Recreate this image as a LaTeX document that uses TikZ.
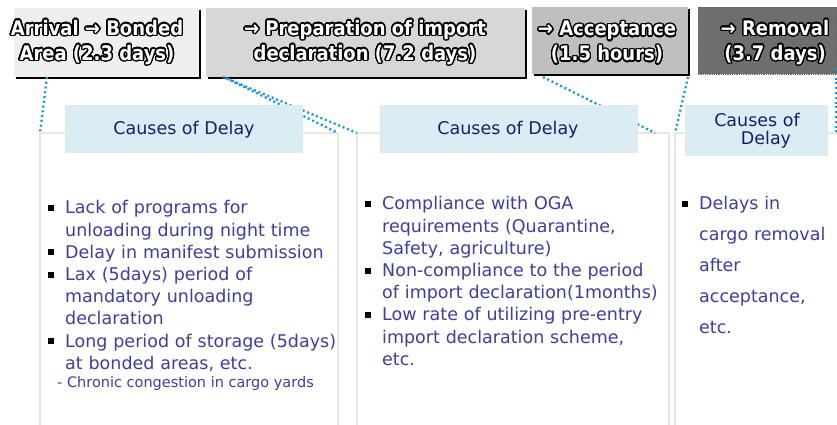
\documentclass[tikz,border=0pt]{standalone}
\usepackage{fontspec}
\setmainfont{DejaVu Sans}
\newfontfamily\boxfont{DejaVu Sans Condensed}
\usepackage{contour}
\contourlength{1.4pt}
\contournumber{24}
\definecolor{textblue}{RGB}{62,62,158}
\definecolor{headtext}{RGB}{28,28,105}
\definecolor{headfill}{RGB}{219,237,244}
\definecolor{headborder}{RGB}{228,234,224}
\definecolor{dotblue}{RGB}{22,152,212}
\definecolor{panelcol}{RGB}{232,232,222}
\definecolor{fillA}{RGB}{239,239,239}
\definecolor{fillB}{RGB}{215,215,215}
\definecolor{fillC}{RGB}{191,191,191}
\definecolor{fillD}{RGB}{110,110,110}
\newcommand\bul{\leavevmode\llap{\textcolor{black}{\rule[3pt]{6pt}{6pt}}\hspace{11.5pt}}}
\begin{document}
\begin{tikzpicture}[x=1pt,y=1pt,
  shadowbox/.style={fill=black},
  boxtext/.style={text=white, align=center, inner sep=0pt,
     font=\boxfont\bfseries\fontsize{20}{25}\selectfont},
  panelline/.style={draw=panelcol, line width=1.6pt},
  headbox/.style={fill=headfill},
  headlabel/.style={text=headtext, align=center, inner sep=0pt,
     font=\fontsize{17.5}{18}\selectfont},
  bodytext/.style={text=textblue, align=left, inner sep=0pt, text width=300pt,
     anchor=base west, font=\fontsize{17.5}{22.2}\selectfont},
  dots/.style={draw=dotblue, line width=2.3pt, dash pattern=on 2pt off 2.8pt}]
\useasboundingbox[fill=white] (0,0) rectangle (837,425);

% panels
\draw[panelline] (40,0) -- (40,292) -- (338,292) -- (338,0);
\draw[panelline] (357,0) -- (357,292) -- (669,292) -- (669,0);
\draw[panelline] (675,0) -- (675,292) -- (837,292);

% top boxes
\fill[shadowbox] (16,346) rectangle (201,415);
\fill[fillA] (14,348) rectangle (199,417);
\fill[shadowbox] (208,346) rectangle (527,415);
\fill[fillB] (206,348) rectangle (525,417);
\fill[shadowbox] (534,349) rectangle (690,416);
\fill[fillC] (532,351) rectangle (688,418);
\fill[fillD] (698,351) rectangle (837,418);
\draw[black!60, densely dotted, line width=0.8pt] (698,351) rectangle (836.5,418);

\node[boxtext] (t1) at (97,382) {\contour{black}{Arrival → Bonded}\\\contour{black}{Area (2.3 days)}};
\node[boxtext] (t2) at (365,382) {\contour{black}{→ Preparation of import}\\\contour{black}{declaration (7.2 days)}};
\node[boxtext] (t3) at (607,382) {\contour{black}{→ Acceptance}\\\contour{black}{(1.5 hours)}};
\node[boxtext] (t4) at (775,382) {\contour{black}{→ Removal}\\\contour{black}{(3.7 days)}};

% connector end points
\coordinate (a1) at (47,348);  \coordinate (p1l) at (40,292);
\coordinate (a2) at (223,348); \coordinate (p2l) at (357,292);
\coordinate (a2b) at (226,347); \coordinate (p1r) at (338,292);
\coordinate (a3) at (543,348); \coordinate (p2r) at (655,292);
\coordinate (a4) at (688,348); \coordinate (p3l) at (675,292);
\coordinate (a5) at (836,357); \coordinate (p3r) at (836,292);
\draw[dots] (a1) -- (p1l);
\draw[dots] (a2) -- (p2l);
\draw[dots] (a2b) -- (p1r);
\draw[dots] (a3) -- (p2r);
\draw[dots] (a4) -- (p3l);
\draw[dots] (a5) -- (p3r);

% headers
\fill[headbox] (65,273) rectangle (302,320);
\fill[headbox] (380,273) rectangle (637,320);
\fill[headbox] (685,270) rectangle (827,320);
\draw[headborder, line width=0.8pt] (65,273) rectangle (302,320);
\draw[headborder, line width=0.8pt] (380,273) rectangle (637,320);
\draw[headborder, line width=0.8pt] (685,270) rectangle (827,320);
\node[headlabel] (h1) at (184,295) {Causes of Delay};
\node[headlabel] (h2) at (508,295) {Causes of Delay};
\node[headlabel] (h3) at (757,294) {Causes of\\\hspace*{18pt}Delay};

% body texts
\node[bodytext] (x1) at (65,211) {\bul Lack of programs for\\
unloading during night time\\
\bul Delay in manifest submission\\
\bul Lax (5days) period of\\
mandatory unloading\\
declaration\\
\bul Long period of storage (5days)\\
at bonded areas, etc.};
\node[text=textblue, anchor=base west, inner sep=0pt, font=\fontsize{14.5}{16}\selectfont] (x1s) at (57,37) {- Chronic congestion in cargo yards};

\node[bodytext] (x2) at (382,215) {\bul Compliance with OGA\\
requirements (Quarantine,\\
Safety, agriculture)\\
\bul Non-compliance to the period\\
of import declaration(1months)\\
\bul Low rate of utilizing pre-entry\\
import declaration scheme,\\
etc.};

\node[bodytext, text width=140pt, font=\fontsize{17.5}{31}\selectfont] (x3) at (699,215) {\bul Delays in\\
cargo removal\\
after\\
acceptance,\\
etc.};
\end{tikzpicture}
\end{document}
